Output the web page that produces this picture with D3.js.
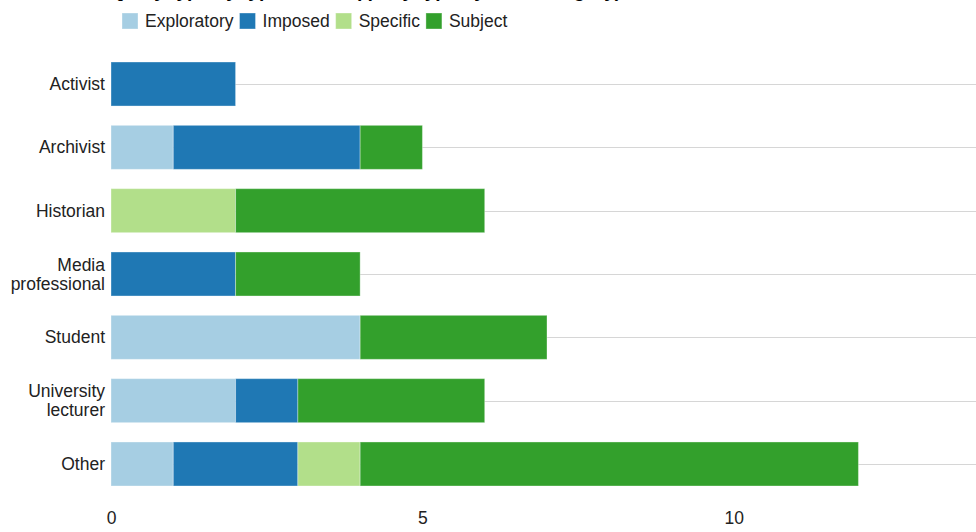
<!DOCTYPE html>
<html>
<head>
<meta charset="utf-8">
<script src="https://cdn.jsdelivr.net/npm/d3@7"></script>
<style>
  html, body { margin: 0; padding: 0; background: #fff; }
  svg { display: block; font-family: "Liberation Sans", Arial, Helvetica, sans-serif; }
</style>
</head>
<body>
<svg id="chart" width="976" height="532"></svg>
<script>
// User categories (top to bottom) and query counts per query type
const categories = ["Activist", "Archivist", "Historian", "Media professional", "Student", "University lecturer", "Other"];
const seriesNames = ["Exploratory", "Imposed", "Specific", "Subject"];
const exploratory = [0, 1, 0, 0, 4, 2, 1];
const imposed     = [2, 3, 0, 2, 0, 1, 2];
const specific    = [0, 0, 2, 0, 0, 0, 1];
const subject     = [0, 1, 4, 2, 3, 3, 8];
const xTicks = [0, 5, 10];
const colors = ["#a6cee3", "#1f78b4", "#b2df8a", "#33a02c"];
const titleText = "Query type by type of user (query type by user category)";

const rows = categories.map((c, i) => ({
  category: c,
  Exploratory: exploratory[i],
  Imposed: imposed[i],
  Specific: specific[i],
  Subject: subject[i]
}));

const svg = d3.select("#chart");
const width = 976, height = 532;
const fs = 17.5;

const x = d3.scaleLinear().domain([0, 14]).range([111, 983]);
const y = d3.scaleBand().domain(categories)
  .range([62, 486])
  .paddingInner(0.305).paddingOuter(0);
const color = d3.scaleOrdinal().domain(seriesNames).range(colors);

// Title (runs off the top edge)
svg.append("text")
  .attr("x", 110).attr("y", -3)
  .attr("font-size", 19).attr("font-weight", "bold").attr("fill", "#000")
  .text(titleText);

// Grid lines through the middle of each bar
svg.append("g").selectAll("line").data(categories).join("line")
  .attr("x1", x(0)).attr("x2", width)
  .attr("y1", d => Math.round(y(d) + y.bandwidth() / 2) + 0.5)
  .attr("y2", d => Math.round(y(d) + y.bandwidth() / 2) + 0.5)
  .attr("stroke", "#d6d6d6").attr("stroke-width", 1);

// Stacked bars
const stacked = d3.stack().keys(seriesNames)(rows);
svg.append("g").selectAll("g").data(stacked).join("g")
  .attr("fill", d => color(d.key))
  .selectAll("rect").data(d => d.filter(s => s[1] > s[0])).join("rect")
  .attr("x", d => x(d[0]))
  .attr("width", d => x(d[1]) - x(d[0]))
  .attr("y", d => y(d.data.category))
  .attr("height", y.bandwidth())
  .attr("stroke", "#ffffff").attr("stroke-opacity", 0.35).attr("stroke-width", 1);

// Category labels, wrapped onto two lines where needed
const labelG = svg.append("g");
categories.forEach(c => {
  const words = c.split(" ");
  const lines = words.length > 1 ? [words.slice(0, -1).join(" "), words[words.length - 1]] : [c];
  const cy = y(c) + y.bandwidth() / 2;
  const lh = 19;
  const t = labelG.append("text")
    .attr("text-anchor", "end").attr("font-size", fs).attr("fill", "#222");
  lines.forEach((ln, k) => {
    t.append("tspan")
      .attr("x", 105)
      .attr("y", cy + (k - (lines.length - 1) / 2) * lh)
      .attr("dy", "0.35em")
      .text(ln);
  });
});

// Bottom axis: tick labels only
const xAxis = d3.axisBottom(x).tickValues(xTicks).tickSize(0).tickPadding(0).tickFormat(d3.format("d"));
const ax = svg.append("g").attr("transform", `translate(0, 524)`).call(xAxis);
ax.select(".domain").remove();
ax.selectAll("text").attr("font-size", fs).attr("fill", "#222")
  .attr("font-family", "Liberation Sans, Arial, sans-serif").attr("dy", "0");

// Legend
const legend = svg.append("g").attr("transform", "translate(122, 13)");
let lx = 0;
seriesNames.forEach(name => {
  const g = legend.append("g").attr("transform", `translate(${lx}, 0)`);
  g.append("rect").attr("width", 16).attr("height", 16)
    .attr("fill", color(name)).attr("stroke", "#ffffff").attr("stroke-opacity", 0.35);
  const t = g.append("text").attr("x", 23).attr("y", 8).attr("dy", "0.35em")
    .attr("font-size", fs).attr("fill", "#222").text(name);
  lx += 23 + t.node().getComputedTextLength() + 6;
});
</script>
</body>
</html>
